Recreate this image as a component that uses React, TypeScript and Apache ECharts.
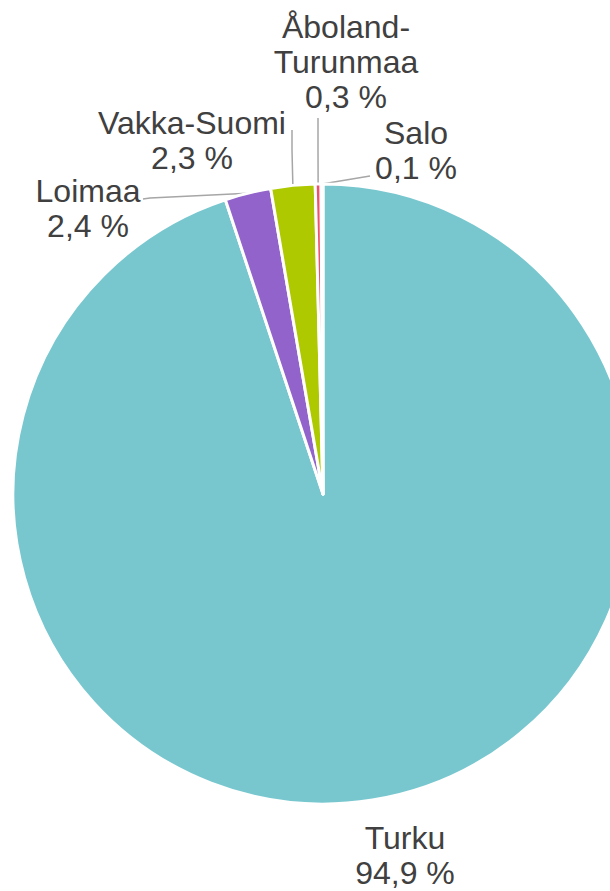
import React, { useEffect, useRef } from "react";
import * as echarts from "echarts";

const categories = ["Turku", "Loimaa", "Vakka-Suomi", "Åboland-Turunmaa", "Salo"];
const displayNames = ["Turku", "Loimaa", "Vakka-Suomi", "Åboland-\nTurunmaa", "Salo"];
const values = [94.9, 2.4, 2.3, 0.3, 0.1];
const colors = ["#78C7CF", "#9163CB", "#AEC900", "#F0506A", "#F59A23"];

// label anchor (centre of text block) and label-line end points
const labelCenters: [number, number][] = [
  [405, 855],
  [88, 208],
  [192, 140],
  [346, 62],
  [416, 150],
];
const lineEnds: ([number, number][] | null)[] = [
  null,
  [[150, 198], [143, 199]],
  [[292, 150], [292, 130]],
  [[318, 150], [318, 118]],
  [[346, 180], [370, 176]],
];

export default function App() {
  const ref = useRef<HTMLDivElement>(null);
  useEffect(() => {
    if (!ref.current) return;
    const chart = echarts.init(ref.current, undefined, { renderer: "svg" });
    chart.setOption({
      animation: false,
      backgroundColor: "#ffffff",
      series: [
        {
          type: "pie",
          center: [323, 494],
          radius: [0, 310],
          startAngle: 90,
          clockwise: true,
          avoidLabelOverlap: false,
          itemStyle: { borderColor: "#ffffff", borderWidth: 3 },
          label: {
            show: true,
            position: "outside",
            fontFamily: "Liberation Sans, Arial, sans-serif",
            fontSize: 32,
            lineHeight: 35,
            color: "#404040",
            align: "center",
            formatter: (p: any) =>
              `${displayNames[p.dataIndex]}\n${Number(p.value).toFixed(1).replace(".", ",")} %`,
          },
          labelLine: {
            show: true,
            lineStyle: { color: "#A6A6A6", width: 1.5 },
          },
          labelLayout: (params: any) => {
            const i = params.dataIndex;
            const [cx, cy] = labelCenters[i];
            const res: any = {
              x: cx,
              y: cy,
              align: "center",
              verticalAlign: "middle",
            };
            const ends = lineEnds[i];
            if (ends && params.labelLinePoints) {
              const p0 = params.labelLinePoints[0];
              res.labelLinePoints = [[p0[0], p0[1]], ends[0], ends[1]];
            }
            return res;
          },
          data: categories.map((name, i) => ({
            name,
            value: values[i],
            itemStyle: { color: colors[i] },
            labelLine: { show: lineEnds[i] !== null },
          })),
        },
      ],
    });
    return () => chart.dispose();
  }, []);
  return (
    <div
      ref={ref}
      style={{ position: "fixed", left: 0, top: 0, width: 610, height: 891 }}
    />
  );
}
